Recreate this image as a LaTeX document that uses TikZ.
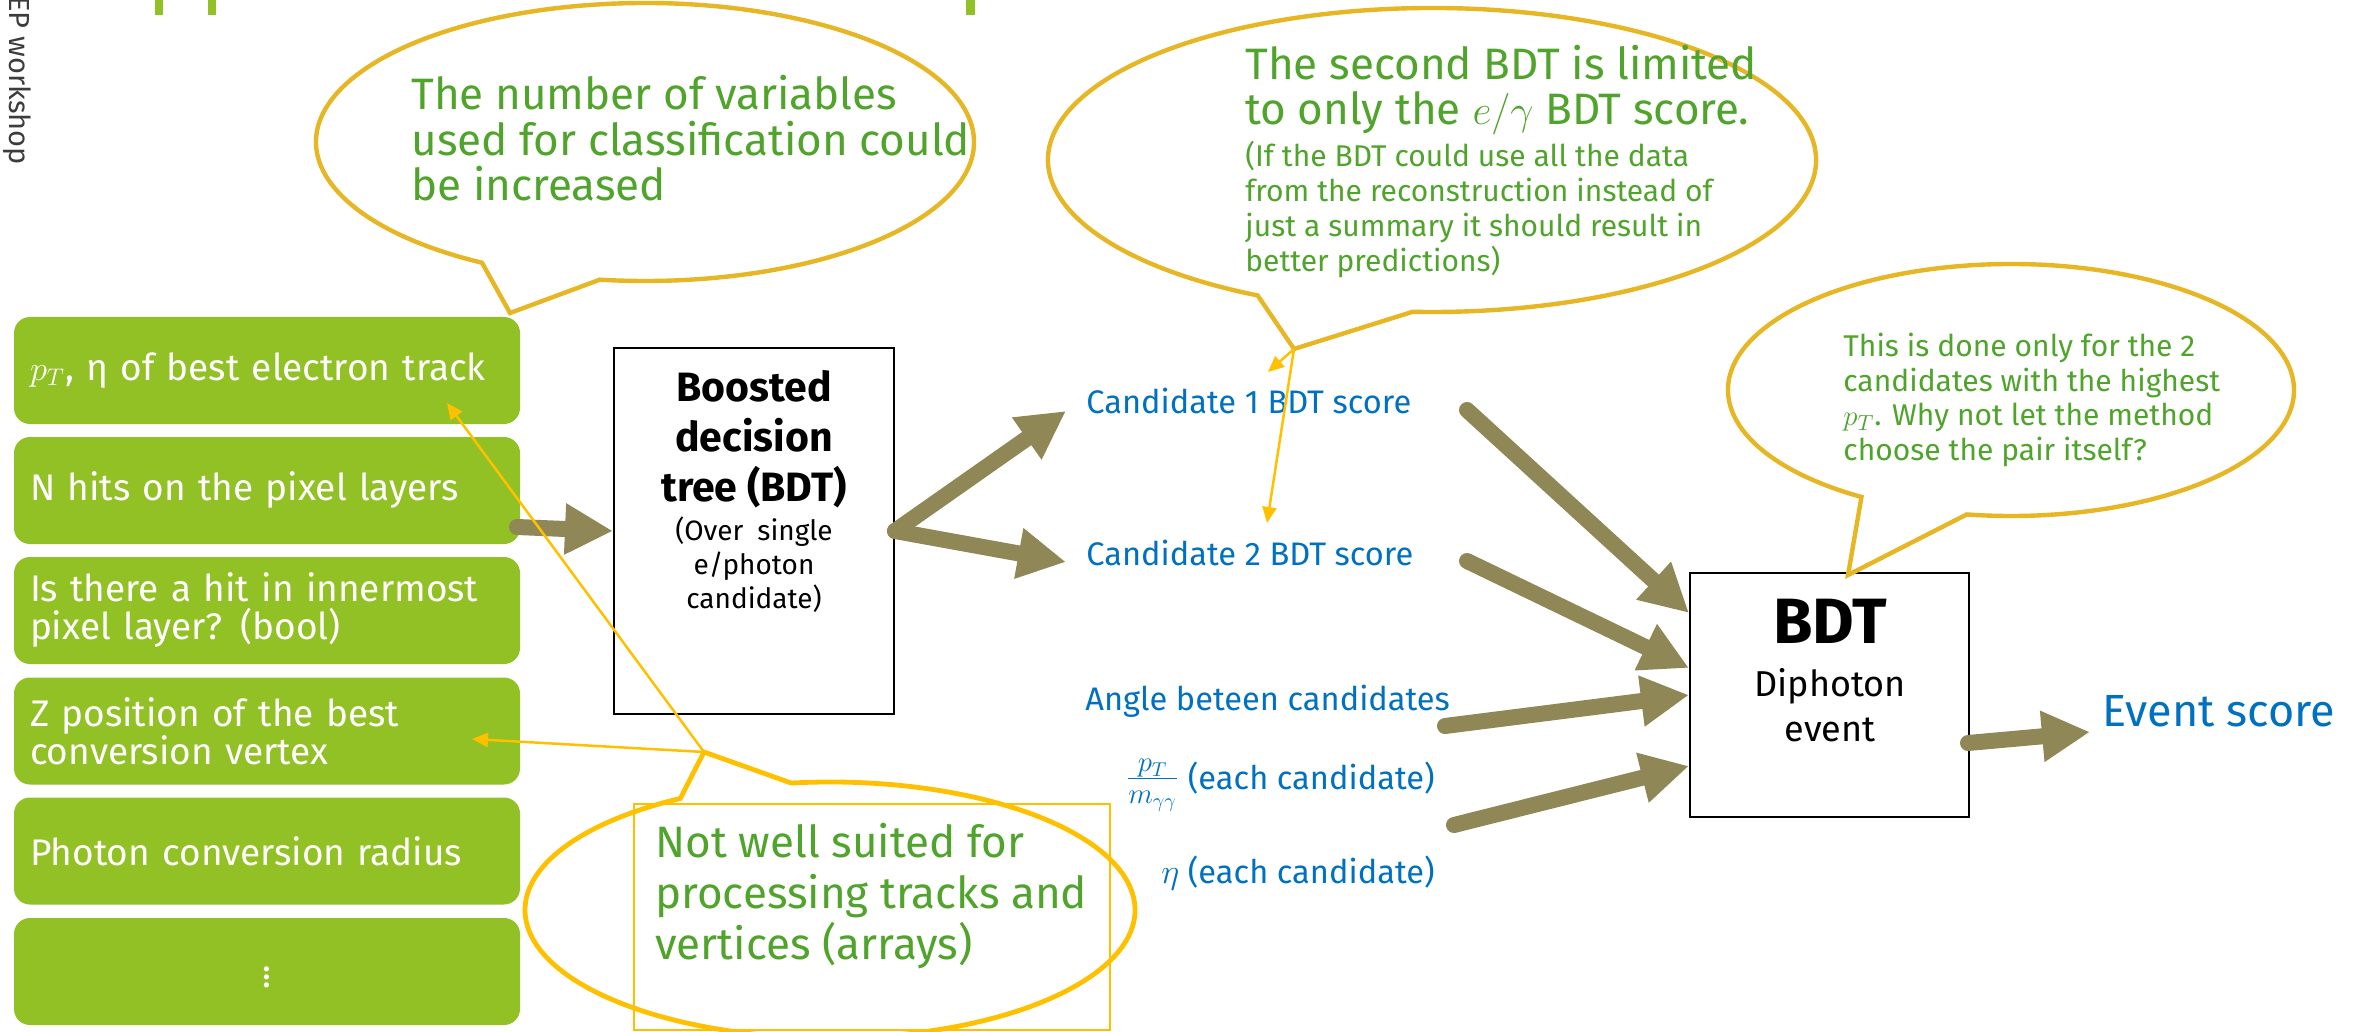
\documentclass[tikz,border=0pt]{standalone}
\usepackage{fontspec}
\setmainfont{Fira Sans}
\usetikzlibrary{arrows.meta,calc}

\definecolor{boxgreen}{RGB}{146,193,38}
\definecolor{notegreen}{RGB}{80,164,44}
\definecolor{calloutgold}{RGB}{230,182,36}
\definecolor{pointgold}{RGB}{255,192,0}
\definecolor{flowolive}{RGB}{143,135,86}
\definecolor{scoreblue}{RGB}{0,112,192}
\definecolor{footgray}{RGB}{60,60,60}

\newcommand{\fsz}[2]{\fontsize{#1}{#2}\selectfont}

\begin{document}
\begin{tikzpicture}[x=0.5pt, y=-0.5pt,
  feature/.style={fill=boxgreen, rounded corners=8pt, minimum width=253pt,
    minimum height=53.5pt, text width=237pt, inner xsep=8pt, inner ysep=0pt,
    align=left, text=white, font=\fsz{18.5}{19}},
  bdtbox/.style={draw=black, line width=1pt, fill=white},
  flow/.style={draw=flowolive, line width=8pt, line cap=round,
    -{Triangle[length=24pt,width=24pt]}},
  pointer/.style={draw=pointgold, line width=1.25pt,
    -{Triangle[length=8pt,width=7pt]}},
  bubble/.style={draw=calloutgold, line width=2.2pt, fill=white},
  bubbleb/.style={draw=pointgold, line width=2.4pt, fill=white},
  note/.style={anchor=north west, align=left, inner sep=0pt, text=notegreen},
  inputvar/.style={inner sep=0pt, text=scoreblue, font=\fsz{16.3}{18}},
]
\useasboundingbox (0,0) rectangle (2362,1032);

% slide decorations
\fill[boxgreen] (155,0) rectangle (163,15);
\fill[boxgreen] (208,0) rectangle (216,15);
\fill[boxgreen] (966,0) rectangle (975,15);
\node[rotate=-90, anchor=base west, font=\fsz{14.5}{14.5}, text=footgray, inner sep=0pt]
  (footer) at (10,-4) {EP workshop};

% input features
\node[feature] (f1) at (267,370.5) {$p_T$, η of best electron track};
\node[feature] (f2) at (267,490.5) {N hits on the pixel layers};
\node[feature] (f3) at (267,610.5) {Is there a hit in innermost\\pixel layer? (bool)};
\node[feature] (f4) at (267,731) {Z position of the best\\conversion vertex};
\node[feature] (f5) at (267,851) {Photon conversion radius};
\node[feature, align=center] (f6) at (267,971.5) {$\vdots$};

% per-candidate BDT
\node[bdtbox, minimum width=140pt, minimum height=183pt] (bdt1) at (754,531) {};
\node[anchor=north, align=center, inner sep=0pt, font=\fsz{20.5}{25}\bfseries]
  (bdt1title) at (754,370) {Boosted\\decision\\tree (BDT)};
\node[anchor=north, align=center, inner sep=0pt, font=\fsz{14}{17}]
  (bdt1sub) at (754,516) {(Over\enspace single\\e/photon\\candidate)};

% event-level inputs
\node[inputvar, anchor=base west] (cand1) at (1086,414) {Candidate 1 BDT score};
\node[inputvar, anchor=base west] (cand2) at (1086,565) {Candidate 2 BDT score};
\node[inputvar, anchor=base west] (angle) at (1085,710) {Angle beteen candidates};
\node[inputvar, anchor=base east] (ptm) at (1435,789)
  {{\fsz{20}{20}$\frac{p_T}{m_{\gamma\gamma}}$} (each candidate)};
\node[inputvar, anchor=base east] (eta) at (1435,883) {$\eta$ (each candidate)};

% diphoton BDT
\node[bdtbox, minimum width=139.5pt, minimum height=122pt] (bdt2) at (1829.5,695) {};
\node[anchor=north, inner sep=0pt, font=\fsz{32}{32}\bfseries]
  (bdt2title) at (1830,599) {BDT};
\node[anchor=north, align=center, inner sep=0pt, font=\fsz{18}{22.5}]
  (bdt2sub) at (1830,668) {Diphoton\\event};
\node[anchor=base west, inner sep=0pt, text=scoreblue, font=\fsz{22.5}{22.5}]
  (score) at (2102,726) {Event score};

% flow arrows
\coordinate (inS) at (517,527);
\coordinate (o1) at (1066,411);
\coordinate (o2) at (1066,562);
\coordinate (aS) at (1467,410);  \coordinate (aT) at (1689,613);
\coordinate (bS) at (1467,561);  \coordinate (bT) at (1689,668);
\coordinate (cS) at (1445,726);  \coordinate (cT) at (1689,695);
\coordinate (dS) at (1454,825);  \coordinate (dT) at (1689,766);
\coordinate (eS) at (1968,743);  \coordinate (eT) at (2090,732);
\draw[flow] (inS) -- (bdt1.west);
\draw[flow] (bdt1.east) -- (o1);
\draw[flow] (bdt1.east) -- (o2);
\draw[flow] (aS) -- (aT);
\draw[flow] (bS) -- (bT);
\draw[flow] (cS) -- (cT);
\draw[flow] (dS) -- (dT);
\draw[flow] (eS) -- (eT);

% callout: number of variables
\coordinate (n1c) at (645,142);
\coordinate (n1tip) at (510,313);
\draw[bubble] ($(n1c)+(119.7:329 and 139)$)
  arc[start angle=119.7, end angle=457.9, x radius=329, y radius=139]
  -- (n1tip) -- cycle;
\node[note, font=\fsz{22}{22.75}] (n1text) at (411,75)
  {The number of variables\\used for classification could\\be increased};

% callout: second BDT limited
\coordinate (n2c) at (1432,160);
\coordinate (n2tip) at (1294,349);
\draw[bubble] ($(n2c)+(117:384 and 152)$)
  arc[start angle=117, end angle=452.9, x radius=384, y radius=152]
  -- (n2tip) -- cycle;
\node[note, font=\fsz{22}{22.5}] (n2text) at (1245,45)
  {The second BDT is limited\\to only the $e/\gamma$ BDT score.};
\node[note, font=\fsz{15}{17.5}] (n2sub) at (1245,141)
  {(If the BDT could use all the data\\from the reconstruction instead of\\just a summary it should result in\\better predictions)};

% callout: pair choice
\coordinate (n3c) at (2011,390);
\coordinate (n3tip) at (1848,575);
\draw[bubble] ($(n3c)+(121.9:283 and 126)$)
  arc[start angle=121.9, end angle=459, x radius=283, y radius=126]
  -- (n3tip) -- cycle;
\node[note, font=\fsz{15}{17.25}] (n3text) at (1843,333)
  {This is done only for the 2\\candidates with the highest\\$p_T$. Why not let the method\\choose the pair itself?};

% callout: tracks and vertices
\coordinate (n4c) at (830,910);
\coordinate (n4tip) at (704,752);
\draw[bubbleb] ($(n4c)+(262.7:305 and 128)$)
  arc[start angle=262.7, end angle=600.6, x radius=305, y radius=128]
  -- (n4tip) -- cycle;
\draw[draw=pointgold, line width=1.3pt] (634,804) rectangle (1110,1030);
\node[note, font=\fsz{22}{25.5}] (n4text) at (655,823)
  {Not well suited for\\processing tracks and\\vertices (arrays)};

% pointers
\coordinate (p1) at (1268,372);
\coordinate (p2) at (1267,523);
\coordinate (p3) at (447,403);
\coordinate (p4) at (472,739);
\draw[pointer] (n2tip) -- (p1);
\draw[pointer] (n2tip) -- (p2);
\draw[pointer] (n4tip) -- (p3);
\draw[pointer] (n4tip) -- (p4);
\end{tikzpicture}
\end{document}
